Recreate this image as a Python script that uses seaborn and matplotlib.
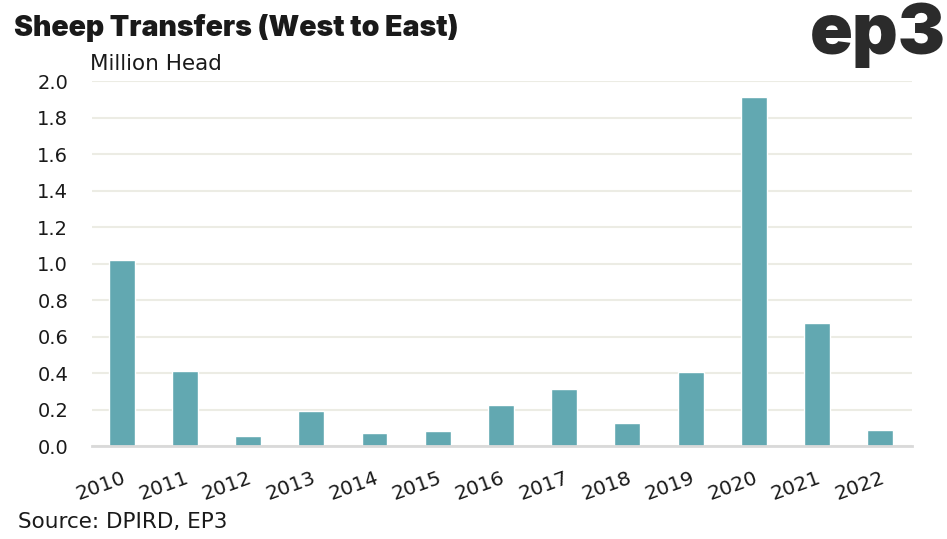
import matplotlib
matplotlib.use("Agg")
import matplotlib.pyplot as plt
import seaborn as sns
import pandas as pd

# data
years = ["2010", "2011", "2012", "2013", "2014", "2015", "2016",
         "2017", "2018", "2019", "2020", "2021", "2022"]
transfers = [1.02, 0.41, 0.055, 0.19, 0.07, 0.08, 0.225,
             0.31, 0.125, 0.405, 1.91, 0.675, 0.088]
y_ticks = [0.0, 0.2, 0.4, 0.6, 0.8, 1.0, 1.2, 1.4, 1.6, 1.8, 2.0]

BAR = "#62a8b1"
GRID = "#ecece4"
TEXT = "#1a1a1a"

sns.set_theme(style="white")
plt.rcParams['font.family'] = ['DejaVu Sans']

df = pd.DataFrame({"year": years, "value": transfers})

fig = plt.figure(figsize=(9.47, 5.39), dpi=100)
ax = fig.add_axes([0.097, 0.1725, 0.866, 0.6772])

sns.barplot(data=df, x="year", y="value", color=BAR, width=0.41,
            saturation=1, ax=ax, zorder=3)

ax.set_ylim(0, 2.0)
ax.set_xlim(-0.47, 12.5)
ax.set_yticks(y_ticks)
ax.set_yticklabels([f"{t:.1f}" for t in y_ticks])
ax.yaxis.grid(True, color=GRID, linewidth=1.5, zorder=0)
ax.xaxis.grid(False)
for s in ["top", "right", "left"]:
    ax.spines[s].set_visible(False)
ax.spines["bottom"].set_color("#d9d9d9")
ax.spines["bottom"].set_linewidth(2)
ax.spines["bottom"].set_zorder(4)
ax.set_xlabel("")
ax.set_ylabel("")
ax.tick_params(axis="y", length=0, labelsize=14, colors=TEXT, pad=17)
ax.tick_params(axis="x", length=0, labelsize=14.5, colors=TEXT, pad=16)
for lbl in ax.get_xticklabels():
    lbl.set_rotation(20)
    lbl.set_ha("right")
    lbl.set_rotation_mode("anchor")

fig.text(0.015, 0.948, "Sheep Transfers (West to East)", fontsize=20.5,
         fontweight="black", color=TEXT, va="center", family="Inter")
fig.text(0.095, 0.882, "Million Head", fontsize=15.5, color=TEXT, va="center")
fig.text(0.999, 0.935, "ep3", fontsize=51, fontweight="black", color="#2b2b2b",
         ha="right", va="center", family="Inter")
fig.text(0.019, 0.032, "Source: DPIRD, EP3", fontsize=15.5, color=TEXT,
         va="center")

fig.savefig("out.png", dpi=100)
